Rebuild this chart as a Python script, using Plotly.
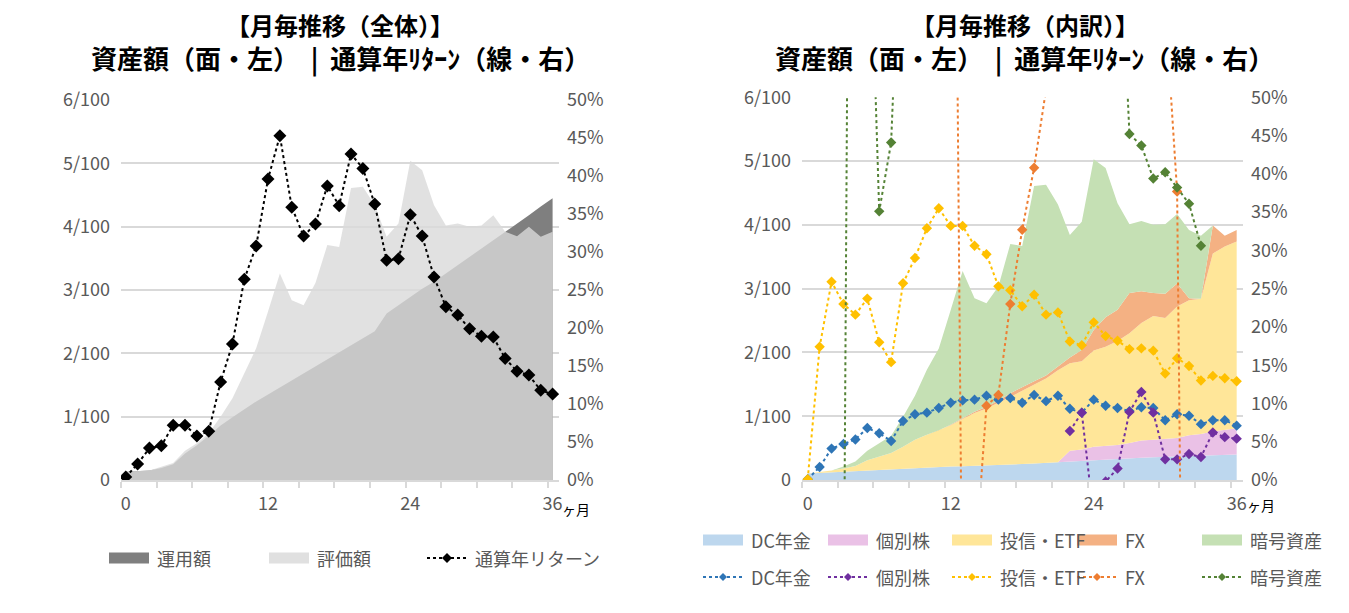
import plotly.graph_objects as go

# ---------------- data ----------------
months = list(range(37))
x_tick_labels = ["0", "12", "24", "36"]
x_tick_vals = [0, 12, 24, 36]
y_left_vals = [0, 1, 2, 3, 4, 5, 6]
y_left_text = ["0", "1/100", "2/100", "3/100", "4/100", "5/100", "6/100"]
y_right_vals = [0, 5, 10, 15, 20, 25, 30, 35, 40, 45, 50]
y_right_text = ["0%", "5%", "10%", "15%", "20%", "25%", "30%", "35%", "40%", "45%", "50%"]

# left chart (overall)
invested = [0.13, 0.14, 0.15, 0.19, 0.25, 0.42, 0.55, 0.70, 0.86, 0.99, 1.12, 1.24, 1.35,
            1.46, 1.57, 1.68, 1.80, 1.91, 2.02, 2.13, 2.24, 2.35, 2.63, 2.76, 2.89, 3.02,
            3.13, 3.26, 3.39, 3.52, 3.65, 3.78, 3.92, 4.05, 4.18, 4.32, 4.45]
valuation = [0.13, 0.14, 0.15, 0.21, 0.27, 0.46, 0.58, 0.74, 1.00, 1.29, 1.68, 2.08, 2.66,
             3.26, 2.84, 2.76, 3.11, 3.71, 3.68, 4.61, 4.63, 4.34, 3.84, 4.05, 5.04, 4.89,
             4.34, 4.02, 4.05, 4.00, 4.02, 4.18, 3.92, 3.85, 4.00, 3.84, 3.92]
total_return = [0.4, 2.1, 4.2, 4.5, 7.2, 7.2, 5.8, 6.4, 12.9, 17.9, 26.4, 30.8, 39.6, 45.3,
                35.9, 32.1, 33.7, 38.7, 36.1, 42.9, 41.0, 36.3, 28.9, 29.1, 34.9, 32.1, 26.7,
                22.8, 21.7, 19.9, 18.9, 18.8, 16.0, 14.3, 13.8, 11.8, 11.3]

# right chart (breakdown) - amounts
dc_amt = [0.10, 0.11, 0.12, 0.13, 0.14, 0.15, 0.16, 0.165, 0.17, 0.18, 0.19, 0.20, 0.21,
          0.215, 0.22, 0.23, 0.235, 0.24, 0.25, 0.26, 0.27, 0.28, 0.30, 0.31, 0.32, 0.325,
          0.33, 0.34, 0.35, 0.355, 0.36, 0.37, 0.38, 0.385, 0.39, 0.395, 0.40]
stock_amt = [0, 0, 0, 0, 0, 0, 0, 0, 0, 0, 0, 0, 0, 0, 0, 0, 0, 0, 0, 0, 0, 0,
             0.16, 0.17, 0.20, 0.205, 0.22, 0.24, 0.27, 0.275, 0.28, 0.29, 0.32, 0.335,
             0.37, 0.385, 0.41]
fund_amt = [0.0, 0.01, 0.03, 0.05, 0.08, 0.16, 0.21, 0.26, 0.35, 0.45, 0.52, 0.58, 0.65,
            0.74, 0.83, 0.89, 0.97, 1.06, 1.15, 1.23, 1.32, 1.44, 1.37, 1.38, 1.51, 1.56,
            1.63, 1.72, 1.84, 1.94, 1.90, 2.06, 2.12, 2.12, 2.79, 2.88, 2.93]
fx_amt = [0, 0, 0, 0, 0, 0, 0, 0, 0, 0, 0, 0, 0.005, 0.01, 0.02, 0.03, 0.04, 0.06, 0.06,
          0.06, 0.05, 0.06, 0.09, 0.18, 0.32, 0.46, 0.49, 0.63, 0.50, 0.36, 0.38, 0.36,
          0.03, 0.0, 0.44, 0.17, 0.18]
crypto_amt = [0, 0, 0, 0.03, 0.07, 0.15, 0.21, 0.27, 0.47, 0.69, 1.02, 1.28, 1.80, 2.31,
              1.78, 1.62, 1.79, 2.34, 2.21, 3.06, 2.99, 2.54, 1.92, 2.01, 2.68, 2.34, 1.67,
              1.08, 1.10, 1.07, 1.09, 1.09, 1.07, 0.99, 0, 0, 0]

# right chart - returns (%)
dc_ret = [0.1, 1.7, 4.1, 4.7, 5.3, 6.8, 6.1, 5.1, 7.7, 8.6, 8.8, 9.4, 10.1, 10.4, 10.5, 11.0,
          10.5, 10.7, 10.1, 11.1, 10.3, 11.0, 9.3, 8.8, 10.5, 9.7, 9.4, 9.0, 9.5, 9.4, 7.8,
          8.6, 8.4, 7.3, 7.8, 7.8, 7.1]
stock_ret = [None, None, None, None, None, None, None, None, None, None, None, None, None,
             None, None, None, None, None, None, None, None, None,
             6.4, 8.8, -4.9, -0.2, 1.5, 8.9, 11.5, 8.8, 2.7, 2.7, 3.4, 3.0, 6.2, 5.6, 5.4]
fund_ret = [0.1, 17.4, 25.9, 23.0, 21.6, 23.7, 18.0, 15.4, 25.7, 29.0, 32.9, 35.5, 33.2, 33.2,
            30.6, 29.5, 25.3, 24.8, 22.7, 24.2, 21.6, 21.9, 18.1, 17.6, 20.6, 18.8, 18.2,
            17.1, 17.2, 16.9, 13.9, 15.9, 14.9, 13.0, 13.6, 13.3, 12.9]
fx_ret = [None, None, None, None, None, None, None, None, None, None, None, None,
          155, -25, -12, 9.7, 11.1, 23.0, 32.7, 40.8, 51, 58, 62, 64, 66, 68, 70, 70, 68, 66,
          62, 37.7, -113, None, None, None, None]
crypto_ret = [None, None, None, -25, 225, 85, 35.1, 44.1, 115, 140, 160, 170, 180, 175, 160,
              150, 140, 150, 140, 130, 120, 110, 100, 95, 90, 85, 79, 45.2, 43.7, 39.4, 40.2,
              38.2, 36.1, 30.6, None, None, None]

left_titles = ["【月毎推移（全体）】", "資産額（面・左）\u00a0\u00a0|\u00a0\u00a0通算年ﾘﾀｰﾝ（線・右）"]
right_titles = ["【月毎推移（内訳）】", "資産額（面・左）\u00a0\u00a0|\u00a0\u00a0通算年ﾘﾀｰﾝ（線・右）"]

# ---------------- style ----------------
OFF = 8                      # default page margin around the plot div
W, H = 1349 - 2 * OFF, 613 - 2 * OFF
FONT = "Noto Sans CJK JP"
GRAY_TXT = "#595959"
GRID = "#d9d9d9"


def px_x(p):
    return (p - OFF) / W


def px_y(p):
    return (H - (p - OFF)) / H


fig = go.Figure()

# left chart
fig.add_trace(go.Scatter(x=months, y=invested, name="運用額", mode="lines", fill="tozeroy",
                         fillcolor="#7f7f7f", line=dict(width=0, color="#7f7f7f"),
                         xaxis="x", yaxis="y", showlegend=False))
fig.add_trace(go.Scatter(x=months, y=valuation, name="評価額", mode="lines", fill="tozeroy",
                         fillcolor="rgba(217,217,217,0.8)", line=dict(width=0, color="#d9d9d9"),
                         xaxis="x", yaxis="y", showlegend=False))
fig.add_trace(go.Scatter(x=months, y=total_return, name="通算年リターン", mode="lines+markers",
                         line=dict(color="black", width=2, dash="dot"),
                         marker=dict(symbol="diamond", size=10, color="black"),
                         xaxis="x", yaxis="y2", showlegend=False))

# right chart areas
area_specs = [("DC年金", dc_amt, "#bdd7ee"), ("個別株", stock_amt, "#eac1e6"),
              ("投信・ETF", fund_amt, "#ffe699"), ("FX", fx_amt, "#f4b183"),
              ("暗号資産", crypto_amt, "#c5e0b4")]
for name, vals, col in area_specs:
    fig.add_trace(go.Scatter(x=months, y=vals, name=name, mode="lines", stackgroup="r",
                             fillcolor=col, line=dict(width=0, color=col),
                             xaxis="x2", yaxis="y3", showlegend=False))

line_specs = [("DC年金", dc_ret, "#2e75b6"), ("個別株", stock_ret, "#7030a0"),
              ("投信・ETF", fund_ret, "#ffc000"), ("FX", fx_ret, "#ed7d31"),
              ("暗号資産", crypto_ret, "#548235")]
for name, vals, col in line_specs:
    fig.add_trace(go.Scatter(x=months, y=vals, name=name, mode="lines+markers",
                             line=dict(color=col, width=2, dash="dot"),
                             marker=dict(symbol="diamond", size=8, color=col),
                             connectgaps=False,
                             xaxis="x2", yaxis="y4", showlegend=False))

tickfont = dict(family=FONT, size=18, color=GRAY_TXT)
ydom = [px_y(480), px_y(100)]
ydom_r = [px_y(480), px_y(97.3)]


def xaxis_cfg(dom_px, rng):
    return dict(domain=[px_x(dom_px[0]), px_x(dom_px[1])], range=rng,
                tickvals=x_tick_vals, ticktext=x_tick_labels, ticks="",
                tickfont=tickfont, showgrid=False, zeroline=False, automargin=False,
                showline=True, linecolor=GRID, linewidth=2,
                ticklabelstandoff=6,
                minor=dict(ticks="outside", ticklen=6, tickwidth=2, tickcolor=GRID,
                           tickvals=[rng[0] + 3 * k for k in range(13)], showgrid=False))


def yleft_cfg(dom):
    return dict(domain=dom, range=[0, 6], tickvals=y_left_vals, ticktext=y_left_text,
                tickfont=tickfont, showgrid=True, gridcolor=GRID, gridwidth=1.5,
                zeroline=False, showline=False, ticks="", ticklabelstandoff=10,
                automargin=False)


def yright_cfg(over, anchor):
    return dict(overlaying=over, anchor=anchor, side="right", range=[0, 50],
                tickvals=y_right_vals, ticktext=y_right_text, tickfont=tickfont,
                showgrid=False, zeroline=False, showline=False, ticks="",
                ticklabelstandoff=7, automargin=False)


fig.update_layout(
    width=W, height=H, margin=dict(l=0, r=0, t=0, b=0, autoexpand=False),
    paper_bgcolor="white", plot_bgcolor="white", showlegend=False,
    font=dict(family=FONT, color=GRAY_TXT),
    xaxis=xaxis_cfg((121, 559), [-0.40, 36.54]),
    yaxis=yleft_cfg(ydom),
    yaxis2=yright_cfg("y", "x"),
    xaxis2=dict(xaxis_cfg((802, 1243), [-0.48, 36.53]), anchor="y3"),
    yaxis3=dict(yleft_cfg(ydom_r), anchor="x2"),
    yaxis4=yright_cfg("y3", "x2"),
)

annots = []
shapes = []
for cx, titles in [(340, left_titles), (1025, right_titles)]:
    for txt, yy, fs in [(titles[0], 24, 24), (titles[1], 58, 26)]:
        annots.append(dict(text="<b>" + txt + "</b>", x=px_x(cx), y=px_y(yy), xref="paper",
                           yref="paper", showarrow=False, xanchor="center", yanchor="middle",
                           font=dict(family=FONT, size=fs, color="black")))
for xx, yy in [(576, 509), (1261, 505)]:
    annots.append(dict(text="ヶ月", x=px_x(xx), y=px_y(yy), xref="paper", yref="paper",
                       showarrow=False, xanchor="center", yanchor="middle",
                       font=dict(family=FONT, size=14, color="black")))


# ---- legends (drawn by hand for exact placement) ----
def legend_box(x0, yc, color, label):
    shapes.append(dict(type="rect", xref="paper", yref="paper",
                       x0=px_x(x0), x1=px_x(x0 + 40), y0=px_y(yc + 5.5), y1=px_y(yc - 5.5),
                       fillcolor=color, line=dict(width=0), layer="above"))
    annots.append(dict(text=label, x=px_x(x0 + 46), y=px_y(yc), xref="paper", yref="paper",
                       showarrow=False, xanchor="left", yanchor="middle",
                       font=dict(family=FONT, size=18, color=GRAY_TXT)))


def legend_line(x0, yc, color, label, half):
    shapes.append(dict(type="line", xref="paper", yref="paper",
                       x0=px_x(x0), x1=px_x(x0 + 40), y0=px_y(yc), y1=px_y(yc),
                       line=dict(color=color, width=2, dash="dot"), layer="above"))
    cx = x0 + 20
    path = "M {},{} L {},{} L {},{} L {},{} Z".format(
        px_x(cx - half), px_y(yc), px_x(cx), px_y(yc - half),
        px_x(cx + half), px_y(yc), px_x(cx), px_y(yc + half))
    shapes.append(dict(type="path", xref="paper", yref="paper", path=path,
                       fillcolor=color, line=dict(width=0), layer="above"))
    annots.append(dict(text=label, x=px_x(x0 + 46), y=px_y(yc), xref="paper", yref="paper",
                       showarrow=False, xanchor="left", yanchor="middle",
                       font=dict(family=FONT, size=18, color=GRAY_TXT)))


legend_box(109, 558, "#7f7f7f", "運用額")
legend_box(269, 558, "#e0e0e0", "評価額")
legend_line(427, 558, "black", "通算年リターン", 5)

r_x = [703, 828, 952, 1077, 1202]
for (name, _, col), xx in zip(area_specs, r_x):
    legend_box(xx, 540, col, name)
for (name, _, col), xx in zip(line_specs, r_x):
    legend_line(xx, 577, col, name, 4)

fig.update_layout(annotations=annots, shapes=shapes)

fig.write_html("out.html")
